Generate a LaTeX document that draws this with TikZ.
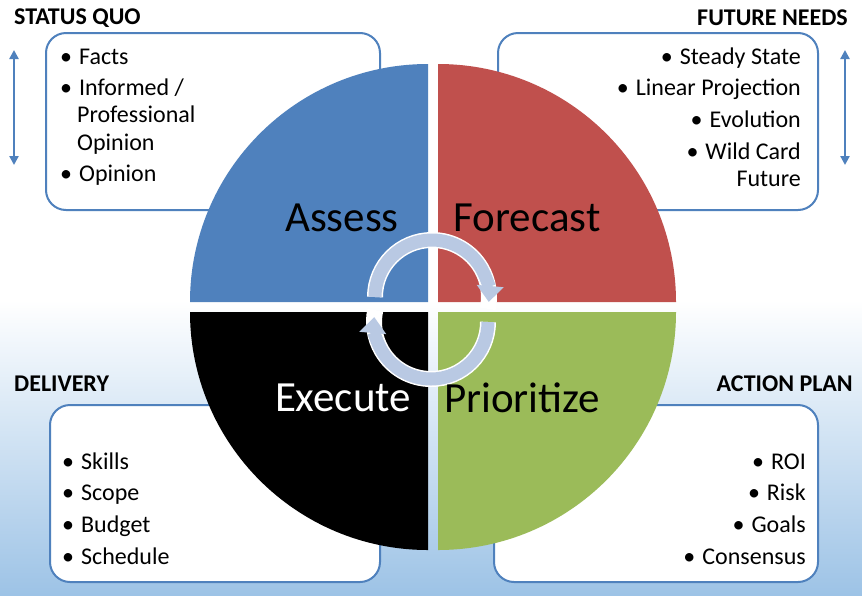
\documentclass[tikz,border=0pt]{standalone}
\usepackage{fontspec}
\setmainfont{Carlito}
\usetikzlibrary{arrows.meta}
\definecolor{bl}{HTML}{4F81BD}
\definecolor{rd}{HTML}{C0504D}
\definecolor{gr}{HTML}{9BBB59}
\definecolor{ar}{HTML}{B9C9E3}
\definecolor{bg}{HTML}{9DC3E6}
\begin{document}
\begin{tikzpicture}[x=1pt,y=-1pt,
  box/.style={draw=bl,line width=2pt,fill=white,rounded corners=20pt},
  ttl/.style={font=\bfseries\fontsize{24}{28}\selectfont,inner sep=0pt},
  itm/.style={font=\fontsize{24}{28}\selectfont,inner sep=0pt,anchor=base west},
  itr/.style={font=\fontsize{24}{28}\selectfont,inner sep=0pt,anchor=base east},
  big/.style={font=\fontsize{43}{48}\selectfont,inner sep=0pt},
  vark/.style={draw=bl,line width=2.5pt,{Triangle[width=9pt,length=9pt]}-{Triangle[width=9pt,length=9pt]}},
  circ/.style={draw=ar,line width=13pt},
  circo/.style={draw=white,line width=16pt}]
\useasboundingbox (0,0) rectangle (862,595);
\fill[white] (0,0) rectangle (862,300);
\shade[top color=white,bottom color=bg] (0,300) rectangle (862,595);
% boxes
\draw[box] (46,33) rectangle (380,210);
\draw[box] (498,33) rectangle (818,210);
\draw[box] (50,405) rectangle (380,582);
\draw[box] (494,405) rectangle (818,582);
% quadrants
\fill[bl] (428,302) -- (190,302) arc[start angle=180,end angle=270,radius=238] -- cycle;
\fill[rd] (438,302) -- (438,64) arc[start angle=270,end angle=360,radius=238] -- cycle;
\fill[black] (428,312) -- (428,550) arc[start angle=90,end angle=180,radius=238] -- cycle;
\fill[gr] (438,312) -- (676,312) arc[start angle=0,end angle=90,radius=238] -- cycle;
% circular arrows
\draw[circo] (375,297) arc[start angle=180,end angle=372,radius=57];
\draw[circ,-{Triangle[width=26pt,length=16pt]}] (375,297) arc[start angle=180,end angle=365,radius=57];
\draw[circo] (488,322) arc[start angle=0,end angle=192,radius=57];
\draw[circ,-{Triangle[width=26pt,length=16pt]}] (488,322) arc[start angle=0,end angle=185,radius=57];
% big labels
\node[big] (a) at (342,218) {Assess};
\node[big] (f) at (527,218) {Forecast};
\node[big,white] (e) at (343,398) {Execute};
\node[big] (p) at (522,398) {Prioritize};
% titles
\node[ttl,anchor=west] (t1) at (14,18) {STATUS QUO};
\node[ttl,anchor=east] (t2) at (848,18) {FUTURE NEEDS};
\node[ttl,anchor=west] (t3) at (14,384) {DELIVERY};
\node[ttl,anchor=east] (t4) at (853,384) {ACTION PLAN};
% side arrows
\coordinate (l1) at (14,50); \coordinate (l2) at (14,165);
\coordinate (r1) at (845,50); \coordinate (r2) at (845,165);
\draw[vark] (l1) -- (l2);
\draw[vark] (r1) -- (r2);
% lists
\node[itm] (s1) at (60,64) {•\hspace{7pt}Facts};
\node[itm] (s2) at (60,95) {•\hspace{7pt}Informed /};
\node[itm] (s3) at (77,122) {Professional};
\node[itm] (s4) at (77,150) {Opinion};
\node[itm] (s5) at (60,181) {•\hspace{7pt}Opinion};
\node[itr] (f1) at (801,64) {•\hspace{7pt}Steady State};
\node[itr] (f2) at (801,95) {•\hspace{7pt}Linear Projection};
\node[itr] (f3) at (801,127) {•\hspace{7pt}Evolution};
\node[itr] (f4) at (801,159) {•\hspace{7pt}Wild Card};
\node[itr] (f5) at (801,186) {Future};
\node[itm] (d1) at (62,469) {•\hspace{7pt}Skills};
\node[itm] (d2) at (62,500) {•\hspace{7pt}Scope};
\node[itm] (d3) at (62,532) {•\hspace{7pt}Budget};
\node[itm] (d4) at (62,564) {•\hspace{7pt}Schedule};
\node[itr] (p1) at (806,469) {•\hspace{7pt}ROI};
\node[itr] (p2) at (806,500) {•\hspace{7pt}Risk};
\node[itr] (p3) at (806,532) {•\hspace{7pt}Goals};
\node[itr] (p4) at (806,564) {•\hspace{7pt}Consensus};
\end{tikzpicture}
\end{document}
